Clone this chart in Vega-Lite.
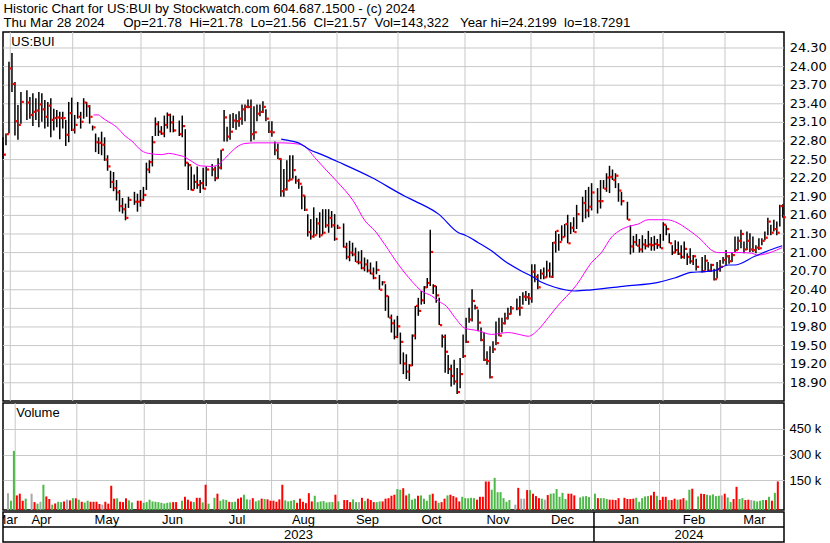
{
"$schema":"https://vega.github.io/schema/vega-lite/v6.json",
"background":"white",
"padding":{"left":1,"top":1,"right":0,"bottom":1},
"spacing":2,
"bounds":"flush",
"title":{"text":["Historic Chart for US:BUI by Stockwatch.com 604.687.1500 - (c) 2024","Thu Mar 28 2024\u00a0\u00a0\u00a0\u00a0\u00a0Op=21.78\u00a0\u00a0Hi=21.78\u00a0\u00a0Lo=21.56\u00a0\u00a0Cl=21.57\u00a0\u00a0Vol=143,322\u00a0\u00a0\u00a0Year hi=24.2199\u00a0\u00a0lo=18.7291"],"anchor":"start","font":"Liberation Sans","fontSize":13.3,"fontWeight":"normal","color":"black","lineHeight":14,"offset":1.5,"dx":2},
"config":{"view":{"stroke":"black","strokeWidth":1.5},"font":"Liberation Sans"},
"datasets":{
"bars":[
{"s":-3,"h":22.86,"l":22.51,"c":22.58,"v":75000,"d":"f"},
{"s":-2,"h":22.92,"l":22.73,"c":22.91,"v":31000,"d":"u"},
{"s":-1,"h":24.08,"l":22.92,"c":23.97,"v":321000,"d":"u"},
{"s":0,"h":24.22,"l":23.59,"c":23.72,"v":62000,"d":"d"},
{"s":1,"h":23.75,"l":22.89,"c":23.12,"v":72000,"d":"d"},
{"s":2,"h":23.38,"l":22.82,"c":23.06,"v":31000,"d":"d"},
{"s":3,"h":23.59,"l":23.08,"c":23.43,"v":43000,"d":"u"},
{"s":5,"h":23.62,"l":23.14,"c":23.42,"v":72000,"d":"f"},
{"s":6,"h":23.51,"l":23.16,"c":23.22,"v":23000,"d":"d"},
{"s":7,"h":23.57,"l":23.04,"c":23.27,"v":14000,"d":"u"},
{"s":8,"h":23.49,"l":23.14,"c":23.29,"v":25000,"d":"f"},
{"s":9,"h":23.59,"l":23.02,"c":23.39,"v":124000,"d":"u"},
{"s":10,"h":23.57,"l":23.11,"c":23.31,"v":56000,"d":"d"},
{"s":11,"h":23.46,"l":23.00,"c":23.19,"v":41000,"d":"d"},
{"s":12,"h":23.43,"l":23.03,"c":23.37,"v":8000,"d":"u"},
{"s":13,"h":23.49,"l":22.86,"c":23.14,"v":15000,"d":"d"},
{"s":14,"h":23.32,"l":22.97,"c":23.17,"v":25000,"d":"u"},
{"s":15,"h":23.30,"l":23.02,"c":23.18,"v":23000,"d":"u"},
{"s":16,"h":23.27,"l":22.83,"c":23.17,"v":27000,"d":"d"},
{"s":17,"h":23.27,"l":23.00,"c":23.17,"v":37000,"d":"f"},
{"s":18,"h":23.14,"l":22.72,"c":22.90,"v":33000,"d":"d"},
{"s":19,"h":23.43,"l":22.78,"c":23.25,"v":46000,"d":"u"},
{"s":20,"h":23.50,"l":22.96,"c":22.98,"v":45000,"d":"d"},
{"s":21,"h":23.22,"l":22.92,"c":23.06,"v":37000,"d":"u"},
{"s":22,"h":23.43,"l":23.16,"c":23.19,"v":25000,"d":"d"},
{"s":23,"h":23.27,"l":23.00,"c":23.11,"v":21000,"d":"u"},
{"s":24,"h":23.49,"l":23.16,"c":23.42,"v":31000,"d":"u"},
{"s":25,"h":23.43,"l":23.19,"c":23.36,"v":25000,"d":"d"},
{"s":26,"h":23.38,"l":23.08,"c":23.19,"v":25000,"d":"d"},
{"s":27,"h":23.05,"l":22.97,"c":23.02,"v":25000,"d":"d"},
{"s":28,"h":22.92,"l":22.62,"c":22.78,"v":12000,"d":"d"},
{"s":29,"h":22.86,"l":22.59,"c":22.77,"v":8000,"d":"f"},
{"s":30,"h":22.95,"l":22.57,"c":22.74,"v":25000,"d":"d"},
{"s":31,"h":22.86,"l":22.48,"c":22.50,"v":14000,"d":"d"},
{"s":32,"h":22.57,"l":22.32,"c":22.39,"v":118000,"d":"d"},
{"s":33,"h":22.32,"l":22.04,"c":22.14,"v":43000,"d":"d"},
{"s":34,"h":22.30,"l":21.99,"c":22.04,"v":45000,"d":"u"},
{"s":35,"h":22.17,"l":21.84,"c":21.97,"v":25000,"d":"d"},
{"s":36,"h":22.01,"l":21.66,"c":21.75,"v":23000,"d":"d"},
{"s":37,"h":21.88,"l":21.63,"c":21.70,"v":45000,"d":"d"},
{"s":38,"h":21.79,"l":21.52,"c":21.56,"v":33000,"d":"u"},
{"s":39,"h":21.90,"l":21.72,"c":21.85,"v":21000,"d":"u"},
{"s":41,"h":21.98,"l":21.77,"c":21.82,"v":31000,"d":"d"},
{"s":42,"h":21.95,"l":21.66,"c":21.82,"v":31000,"d":"d"},
{"s":43,"h":22.01,"l":21.74,"c":21.85,"v":19000,"d":"u"},
{"s":44,"h":22.06,"l":21.83,"c":21.93,"v":23000,"d":"u"},
{"s":45,"h":22.45,"l":22.01,"c":22.34,"v":37000,"d":"u"},
{"s":46,"h":22.49,"l":22.28,"c":22.46,"v":27000,"d":"u"},
{"s":47,"h":22.88,"l":22.39,"c":22.78,"v":25000,"d":"u"},
{"s":48,"h":23.18,"l":22.88,"c":23.07,"v":23000,"d":"u"},
{"s":49,"h":23.12,"l":22.88,"c":22.95,"v":19000,"d":"u"},
{"s":50,"h":23.04,"l":22.90,"c":22.92,"v":15000,"d":"u"},
{"s":51,"h":23.21,"l":22.86,"c":23.06,"v":19000,"d":"u"},
{"s":52,"h":23.26,"l":23.00,"c":23.22,"v":21000,"d":"u"},
{"s":53,"h":23.24,"l":22.94,"c":23.10,"v":23000,"d":"d"},
{"s":54,"h":23.21,"l":22.94,"c":22.97,"v":23000,"d":"d"},
{"s":56,"h":23.13,"l":22.88,"c":22.91,"v":31000,"d":"u"},
{"s":57,"h":23.21,"l":22.86,"c":23.04,"v":54000,"d":"d"},
{"s":58,"h":22.99,"l":22.39,"c":22.45,"v":37000,"d":"d"},
{"s":59,"h":22.45,"l":22.01,"c":22.41,"v":27000,"d":"d"},
{"s":60,"h":22.39,"l":22.00,"c":22.01,"v":23000,"d":"u"},
{"s":61,"h":22.26,"l":22.02,"c":22.14,"v":48000,"d":"d"},
{"s":62,"h":22.39,"l":22.03,"c":22.09,"v":48000,"d":"d"},
{"s":63,"h":22.17,"l":21.96,"c":22.12,"v":21000,"d":"u"},
{"s":64,"h":22.37,"l":22.02,"c":22.03,"v":124000,"d":"d"},
{"s":65,"h":22.39,"l":22.07,"c":22.34,"v":14000,"d":"u"},
{"s":67,"h":22.43,"l":22.23,"c":22.34,"v":48000,"d":"u"},
{"s":68,"h":22.39,"l":22.15,"c":22.20,"v":72000,"d":"d"},
{"s":69,"h":22.52,"l":22.19,"c":22.37,"v":31000,"d":"u"},
{"s":70,"h":22.66,"l":22.34,"c":22.66,"v":39000,"d":"u"},
{"s":71,"h":23.30,"l":22.79,"c":23.18,"v":35000,"d":"u"},
{"s":72,"h":23.03,"l":22.79,"c":22.87,"v":25000,"d":"d"},
{"s":73,"h":23.23,"l":22.82,"c":22.95,"v":23000,"d":"u"},
{"s":74,"h":23.25,"l":23.01,"c":23.13,"v":25000,"d":"u"},
{"s":75,"h":23.23,"l":22.98,"c":23.12,"v":43000,"d":"d"},
{"s":76,"h":23.28,"l":23.03,"c":23.16,"v":50000,"d":"d"},
{"s":77,"h":23.39,"l":23.06,"c":23.31,"v":66000,"d":"u"},
{"s":78,"h":23.39,"l":23.12,"c":23.35,"v":39000,"d":"u"},
{"s":79,"h":23.47,"l":23.33,"c":23.35,"v":37000,"d":"f"},
{"s":80,"h":23.47,"l":22.79,"c":22.91,"v":46000,"d":"d"},
{"s":81,"h":23.36,"l":22.82,"c":22.94,"v":27000,"d":"u"},
{"s":82,"h":23.39,"l":23.12,"c":23.24,"v":33000,"d":"u"},
{"s":83,"h":23.39,"l":23.20,"c":23.27,"v":43000,"d":"d"},
{"s":84,"h":23.44,"l":23.25,"c":23.35,"v":41000,"d":"u"},
{"s":85,"h":23.31,"l":23.12,"c":23.16,"v":39000,"d":"d"},
{"s":86,"h":23.12,"l":22.93,"c":22.95,"v":31000,"d":"d"},
{"s":87,"h":23.12,"l":22.87,"c":22.94,"v":31000,"d":"d"},
{"s":88,"h":22.79,"l":22.57,"c":22.65,"v":25000,"d":"d"},
{"s":89,"h":22.76,"l":22.51,"c":22.51,"v":39000,"d":"d"},
{"s":90,"h":22.52,"l":21.90,"c":21.99,"v":124000,"d":"d"},
{"s":91,"h":22.35,"l":21.90,"c":22.02,"v":33000,"d":"u"},
{"s":92,"h":22.49,"l":22.00,"c":22.16,"v":27000,"d":"u"},
{"s":93,"h":22.57,"l":22.16,"c":22.18,"v":31000,"d":"u"},
{"s":94,"h":22.57,"l":22.19,"c":22.33,"v":35000,"d":"u"},
{"s":95,"h":22.24,"l":22.11,"c":22.16,"v":19000,"d":"d"},
{"s":96,"h":22.19,"l":22.03,"c":22.11,"v":43000,"d":"d"},
{"s":97,"h":22.08,"l":21.70,"c":21.92,"v":25000,"d":"d"},
{"s":98,"h":21.92,"l":21.67,"c":21.69,"v":17000,"d":"d"},
{"s":99,"h":21.62,"l":21.26,"c":21.33,"v":75000,"d":"d"},
{"s":100,"h":21.54,"l":21.21,"c":21.26,"v":27000,"d":"d"},
{"s":101,"h":21.73,"l":21.24,"c":21.28,"v":60000,"d":"u"},
{"s":102,"h":21.56,"l":21.29,"c":21.47,"v":23000,"d":"u"},
{"s":103,"h":21.65,"l":21.24,"c":21.28,"v":27000,"d":"u"},
{"s":104,"h":21.70,"l":21.29,"c":21.32,"v":29000,"d":"u"},
{"s":105,"h":21.70,"l":21.40,"c":21.44,"v":21000,"d":"u"},
{"s":106,"h":21.70,"l":21.32,"c":21.56,"v":23000,"d":"u"},
{"s":107,"h":21.67,"l":21.40,"c":21.44,"v":23000,"d":"u"},
{"s":108,"h":21.62,"l":21.19,"c":21.22,"v":66000,"d":"d"},
{"s":109,"h":21.45,"l":21.38,"c":21.40,"v":27000,"d":"u"},
{"s":111,"h":21.47,"l":21.08,"c":21.09,"v":35000,"d":"d"},
{"s":112,"h":21.16,"l":20.89,"c":20.93,"v":35000,"d":"d"},
{"s":113,"h":21.19,"l":20.86,"c":21.00,"v":23000,"d":"d"},
{"s":114,"h":21.16,"l":20.94,"c":20.97,"v":39000,"d":"u"},
{"s":115,"h":21.08,"l":20.85,"c":20.85,"v":23000,"d":"u"},
{"s":116,"h":21.02,"l":20.81,"c":20.84,"v":23000,"d":"f"},
{"s":117,"h":21.04,"l":20.73,"c":20.75,"v":48000,"d":"d"},
{"s":118,"h":20.92,"l":20.70,"c":20.81,"v":29000,"d":"u"},
{"s":119,"h":20.89,"l":20.68,"c":20.71,"v":43000,"d":"d"},
{"s":120,"h":20.84,"l":20.65,"c":20.66,"v":35000,"d":"d"},
{"s":121,"h":20.76,"l":20.57,"c":20.59,"v":23000,"d":"d"},
{"s":122,"h":20.86,"l":20.65,"c":20.72,"v":23000,"d":"u"},
{"s":123,"h":20.64,"l":20.40,"c":20.40,"v":27000,"d":"u"},
{"s":124,"h":20.54,"l":20.47,"c":20.52,"v":27000,"d":"d"},
{"s":125,"h":20.49,"l":20.06,"c":20.30,"v":43000,"d":"d"},
{"s":126,"h":20.30,"l":19.95,"c":19.95,"v":46000,"d":"d"},
{"s":127,"h":20.00,"l":19.71,"c":19.86,"v":60000,"d":"d"},
{"s":128,"h":19.92,"l":19.60,"c":19.64,"v":66000,"d":"d"},
{"s":129,"h":19.98,"l":19.62,"c":19.81,"v":99000,"d":"u"},
{"s":130,"h":19.71,"l":19.20,"c":19.56,"v":95000,"d":"u"},
{"s":131,"h":19.39,"l":19.04,"c":19.21,"v":104000,"d":"d"},
{"s":132,"h":19.36,"l":18.96,"c":19.08,"v":62000,"d":"d"},
{"s":133,"h":19.20,"l":18.93,"c":19.18,"v":72000,"d":"u"},
{"s":134,"h":19.68,"l":19.17,"c":19.66,"v":37000,"d":"u"},
{"s":135,"h":20.14,"l":19.60,"c":20.14,"v":43000,"d":"u"},
{"s":136,"h":20.27,"l":19.98,"c":20.06,"v":60000,"d":"d"},
{"s":137,"h":20.38,"l":20.16,"c":20.23,"v":62000,"d":"u"},
{"s":138,"h":20.46,"l":20.17,"c":20.44,"v":43000,"d":"u"},
{"s":139,"h":20.59,"l":20.43,"c":20.51,"v":31000,"d":"u"},
{"s":140,"h":21.37,"l":20.46,"c":21.01,"v":66000,"d":"u"},
{"s":141,"h":20.49,"l":20.33,"c":20.46,"v":72000,"d":"d"},
{"s":142,"h":20.46,"l":20.19,"c":20.31,"v":31000,"d":"d"},
{"s":143,"h":20.27,"l":19.83,"c":19.83,"v":19000,"d":"u"},
{"s":144,"h":19.68,"l":19.47,"c":19.64,"v":23000,"d":"d"},
{"s":145,"h":19.68,"l":19.06,"c":19.40,"v":43000,"d":"d"},
{"s":146,"h":19.35,"l":19.04,"c":19.12,"v":62000,"d":"u"},
{"s":147,"h":19.19,"l":18.84,"c":19.01,"v":66000,"d":"d"},
{"s":148,"h":19.27,"l":18.87,"c":18.92,"v":58000,"d":"d"},
{"s":149,"h":19.14,"l":18.72,"c":18.75,"v":50000,"d":"d"},
{"s":150,"h":19.30,"l":18.81,"c":19.04,"v":27000,"d":"d"},
{"s":151,"h":19.68,"l":19.30,"c":19.33,"v":54000,"d":"u"},
{"s":152,"h":19.95,"l":19.54,"c":19.56,"v":46000,"d":"u"},
{"s":153,"h":20.11,"l":19.87,"c":19.92,"v":45000,"d":"u"},
{"s":154,"h":20.41,"l":19.89,"c":20.22,"v":48000,"d":"u"},
{"s":155,"h":20.16,"l":20.08,"c":20.11,"v":46000,"d":"u"},
{"s":156,"h":20.08,"l":19.73,"c":19.87,"v":37000,"d":"d"},
{"s":157,"h":19.79,"l":19.57,"c":19.59,"v":54000,"d":"d"},
{"s":158,"h":19.71,"l":19.25,"c":19.27,"v":54000,"d":"d"},
{"s":159,"h":19.41,"l":19.19,"c":19.25,"v":143000,"d":"d"},
{"s":160,"h":19.49,"l":18.97,"c":18.99,"v":143000,"d":"d"},
{"s":161,"h":19.57,"l":19.38,"c":19.44,"v":95000,"d":"u"},
{"s":162,"h":19.89,"l":19.51,"c":19.54,"v":164000,"d":"u"},
{"s":163,"h":19.95,"l":19.65,"c":19.66,"v":81000,"d":"u"},
{"s":164,"h":19.95,"l":19.71,"c":19.86,"v":81000,"d":"u"},
{"s":165,"h":20.03,"l":19.84,"c":19.94,"v":46000,"d":"u"},
{"s":166,"h":20.11,"l":19.92,"c":20.01,"v":25000,"d":"u"},
{"s":167,"h":20.14,"l":20.00,"c":20.10,"v":35000,"d":"u"},
{"s":169,"h":20.26,"l":20.07,"c":20.10,"v":8000,"d":"f"},
{"s":170,"h":20.30,"l":19.98,"c":20.11,"v":106000,"d":"d"},
{"s":171,"h":20.36,"l":20.16,"c":20.29,"v":43000,"d":"f"},
{"s":172,"h":20.38,"l":20.22,"c":20.28,"v":43000,"d":"f"},
{"s":173,"h":20.35,"l":20.16,"c":20.26,"v":93000,"d":"d"},
{"s":174,"h":20.81,"l":20.19,"c":20.69,"v":93000,"d":"u"},
{"s":175,"h":20.81,"l":20.52,"c":20.61,"v":72000,"d":"d"},
{"s":176,"h":20.65,"l":20.41,"c":20.44,"v":58000,"d":"d"},
{"s":177,"h":20.73,"l":20.57,"c":20.66,"v":46000,"d":"d"},
{"s":178,"h":20.76,"l":20.57,"c":20.60,"v":43000,"d":"u"},
{"s":179,"h":20.87,"l":20.60,"c":20.71,"v":37000,"d":"f"},
{"s":180,"h":20.84,"l":20.60,"c":20.61,"v":64000,"d":"d"},
{"s":181,"h":21.17,"l":20.59,"c":21.16,"v":72000,"d":"u"},
{"s":182,"h":21.35,"l":21.00,"c":21.35,"v":74000,"d":"u"},
{"s":183,"h":21.30,"l":21.03,"c":21.17,"v":99000,"d":"u"},
{"s":184,"h":21.44,"l":21.19,"c":21.25,"v":54000,"d":"u"},
{"s":185,"h":21.46,"l":21.25,"c":21.46,"v":77000,"d":"u"},
{"s":186,"h":21.61,"l":21.15,"c":21.15,"v":41000,"d":"u"},
{"s":187,"h":21.49,"l":21.30,"c":21.40,"v":72000,"d":"d"},
{"s":188,"h":21.57,"l":21.33,"c":21.33,"v":72000,"d":"d"},
{"s":189,"h":21.77,"l":21.38,"c":21.62,"v":62000,"d":"d"},
{"s":191,"h":21.90,"l":21.49,"c":21.80,"v":50000,"d":"u"},
{"s":192,"h":22.01,"l":21.55,"c":21.68,"v":56000,"d":"u"},
{"s":193,"h":22.06,"l":21.57,"c":21.74,"v":58000,"d":"u"},
{"s":194,"h":22.12,"l":21.68,"c":21.97,"v":52000,"d":"u"},
{"s":196,"h":22.04,"l":21.63,"c":21.83,"v":72000,"d":"u"},
{"s":197,"h":22.17,"l":21.71,"c":21.83,"v":46000,"d":"d"},
{"s":198,"h":22.17,"l":22.03,"c":22.03,"v":46000,"d":"u"},
{"s":199,"h":22.28,"l":21.98,"c":22.21,"v":46000,"d":"u"},
{"s":200,"h":22.40,"l":21.96,"c":22.22,"v":41000,"d":"u"},
{"s":201,"h":22.34,"l":22.17,"c":22.17,"v":37000,"d":"d"},
{"s":202,"h":22.28,"l":22.04,"c":22.24,"v":37000,"d":"d"},
{"s":203,"h":22.12,"l":21.82,"c":22.00,"v":35000,"d":"d"},
{"s":204,"h":21.98,"l":21.76,"c":21.83,"v":46000,"d":"d"},
{"s":206,"h":21.82,"l":21.53,"c":21.53,"v":48000,"d":"d"},
{"s":207,"h":21.44,"l":20.97,"c":21.10,"v":41000,"d":"d"},
{"s":208,"h":21.27,"l":21.00,"c":21.17,"v":41000,"d":"d"},
{"s":209,"h":21.30,"l":21.11,"c":21.11,"v":43000,"d":"d"},
{"s":210,"h":21.22,"l":21.00,"c":21.05,"v":48000,"d":"u"},
{"s":211,"h":21.28,"l":21.00,"c":21.13,"v":25000,"d":"u"},
{"s":212,"h":21.22,"l":21.05,"c":21.11,"v":46000,"d":"u"},
{"s":213,"h":21.35,"l":21.08,"c":21.13,"v":56000,"d":"u"},
{"s":214,"h":21.25,"l":21.03,"c":21.12,"v":58000,"d":"u"},
{"s":215,"h":21.27,"l":21.03,"c":21.14,"v":62000,"d":"d"},
{"s":216,"h":21.22,"l":21.06,"c":21.12,"v":83000,"d":"d"},
{"s":217,"h":21.30,"l":21.07,"c":21.07,"v":60000,"d":"u"},
{"s":218,"h":21.49,"l":21.19,"c":21.45,"v":35000,"d":"d"},
{"s":219,"h":21.44,"l":21.28,"c":21.38,"v":54000,"d":"d"},
{"s":220,"h":21.31,"l":21.15,"c":21.15,"v":54000,"d":"d"},
{"s":221,"h":21.12,"l":20.96,"c":21.00,"v":35000,"d":"u"},
{"s":222,"h":21.20,"l":20.99,"c":21.04,"v":35000,"d":"d"},
{"s":223,"h":21.18,"l":20.96,"c":20.98,"v":43000,"d":"d"},
{"s":224,"h":21.12,"l":20.90,"c":20.93,"v":37000,"d":"u"},
{"s":225,"h":21.18,"l":20.90,"c":21.06,"v":39000,"d":"d"},
{"s":226,"h":20.99,"l":20.80,"c":20.93,"v":46000,"d":"d"},
{"s":227,"h":21.07,"l":20.82,"c":20.86,"v":33000,"d":"u"},
{"s":228,"h":20.96,"l":20.80,"c":20.94,"v":95000,"d":"u"},
{"s":229,"h":20.90,"l":20.71,"c":20.77,"v":101000,"d":"d"},
{"s":231,"h":20.93,"l":20.68,"c":20.70,"v":56000,"d":"u"},
{"s":232,"h":20.96,"l":20.71,"c":20.87,"v":72000,"d":"d"},
{"s":233,"h":20.85,"l":20.69,"c":20.71,"v":70000,"d":"d"},
{"s":234,"h":20.82,"l":20.69,"c":20.80,"v":66000,"d":"u"},
{"s":235,"h":20.74,"l":20.55,"c":20.57,"v":62000,"d":"u"},
{"s":236,"h":20.85,"l":20.58,"c":20.73,"v":68000,"d":"u"},
{"s":237,"h":20.88,"l":20.69,"c":20.77,"v":58000,"d":"u"},
{"s":238,"h":20.93,"l":20.82,"c":20.88,"v":60000,"d":"u"},
{"s":239,"h":21.04,"l":20.80,"c":20.94,"v":62000,"d":"f"},
{"s":240,"h":20.96,"l":20.82,"c":20.86,"v":72000,"d":"d"},
{"s":241,"h":21.01,"l":20.85,"c":20.96,"v":50000,"d":"u"},
{"s":242,"h":21.26,"l":21.01,"c":21.04,"v":23000,"d":"u"},
{"s":243,"h":21.26,"l":21.04,"c":21.19,"v":41000,"d":"d"},
{"s":244,"h":21.37,"l":21.07,"c":21.30,"v":112000,"d":"d"},
{"s":245,"h":21.18,"l":20.99,"c":21.05,"v":41000,"d":"u"},
{"s":246,"h":21.34,"l":21.04,"c":21.19,"v":46000,"d":"u"},
{"s":247,"h":21.31,"l":21.01,"c":21.05,"v":35000,"d":"d"},
{"s":248,"h":21.26,"l":21.01,"c":21.04,"v":37000,"d":"d"},
{"s":249,"h":21.12,"l":20.99,"c":21.08,"v":35000,"d":"f"},
{"s":250,"h":21.23,"l":21.04,"c":21.07,"v":31000,"d":"u"},
{"s":251,"h":21.23,"l":21.12,"c":21.19,"v":27000,"d":"u"},
{"s":252,"h":21.34,"l":21.20,"c":21.24,"v":31000,"d":"u"},
{"s":253,"h":21.56,"l":21.28,"c":21.50,"v":35000,"d":"u"},
{"s":254,"h":21.45,"l":21.28,"c":21.32,"v":35000,"d":"d"},
{"s":255,"h":21.53,"l":21.34,"c":21.38,"v":54000,"d":"u"},
{"s":256,"h":21.50,"l":21.28,"c":21.32,"v":31000,"d":"d"},
{"s":257,"h":21.77,"l":21.42,"c":21.75,"v":77000,"d":"u"},
{"s":258,"h":21.78,"l":21.56,"c":21.57,"v":143322,"d":"d"}
],
"ma1":[
{"s":27.3,"m":23.22},{"s":29.0,"m":23.22},{"s":30.1,"m":23.18},{"s":32.3,"m":23.11},{"s":33.4,"m":23.08},{"s":35.1,"m":23.02},{"s":37.9,"m":22.88},{"s":40.1,"m":22.80},{"s":43.5,"m":22.64},{"s":45.7,"m":22.60},{"s":50.2,"m":22.58},{"s":52.4,"m":22.60},{"s":55.8,"m":22.57},{"s":57.4,"m":22.55},{"s":60.2,"m":22.47},{"s":63.0,"m":22.40},{"s":66.9,"m":22.39},{"s":69.1,"m":22.42},{"s":70.3,"m":22.47},{"s":72.5,"m":22.58},{"s":75.8,"m":22.72},{"s":78.0,"m":22.76},{"s":81.4,"m":22.77},{"s":85.9,"m":22.77},{"s":90.3,"m":22.77},{"s":95.9,"m":22.75},{"s":98.1,"m":22.71},{"s":101.4,"m":22.53},{"s":104.8,"m":22.35},{"s":108.7,"m":22.15},{"s":114.3,"m":21.83},{"s":118.2,"m":21.51},{"s":121.5,"m":21.35},{"s":124.8,"m":21.13},{"s":129.3,"m":20.81},{"s":133.8,"m":20.54},{"s":137.1,"m":20.38},{"s":140.5,"m":20.30},{"s":142.7,"m":20.22},{"s":145.5,"m":20.13},{"s":148.3,"m":19.95},{"s":151.6,"m":19.78},{"s":156.1,"m":19.74},{"s":160.5,"m":19.68},{"s":166.1,"m":19.71},{"s":170.6,"m":19.67},{"s":172.8,"m":19.65},{"s":176.2,"m":19.76},{"s":179.5,"m":19.95},{"s":182.3,"m":20.12},{"s":189.0,"m":20.48},{"s":194.0,"m":20.84},{"s":197.3,"m":21.00},{"s":200.7,"m":21.25},{"s":202.9,"m":21.34},{"s":206.3,"m":21.42},{"s":209.6,"m":21.46},{"s":212.9,"m":21.53},{"s":216.3,"m":21.53},{"s":219.1,"m":21.53},{"s":221.8,"m":21.50},{"s":226.3,"m":21.37},{"s":230.8,"m":21.20},{"s":234.1,"m":21.04},{"s":236.4,"m":21.00},{"s":239.7,"m":21.00},{"s":244.1,"m":21.00},{"s":247.5,"m":20.99},{"s":249.7,"m":20.96},{"s":253.1,"m":20.99},{"s":255.9,"m":21.04},{"s":257.8,"m":21.08}
],
"ma2":[
{"s":90.1,"m":22.83},{"s":92.5,"m":22.81},{"s":95.9,"m":22.77},{"s":99.7,"m":22.66},{"s":103.7,"m":22.58},{"s":109.3,"m":22.46},{"s":120.4,"m":22.21},{"s":131.5,"m":21.91},{"s":134.9,"m":21.83},{"s":142.8,"m":21.62},{"s":149.5,"m":21.32},{"s":151.7,"m":21.28},{"s":156.1,"m":21.16},{"s":160.5,"m":21.03},{"s":165.0,"m":20.86},{"s":170.6,"m":20.70},{"s":173.9,"m":20.62},{"s":177.3,"m":20.52},{"s":181.7,"m":20.44},{"s":188.4,"m":20.38},{"s":194.0,"m":20.40},{"s":205.1,"m":20.46},{"s":216.3,"m":20.52},{"s":221.8,"m":20.59},{"s":227.4,"m":20.68},{"s":230.8,"m":20.69},{"s":235.2,"m":20.71},{"s":239.7,"m":20.80},{"s":241.9,"m":20.80},{"s":248.6,"m":20.94},{"s":255.3,"m":21.07},{"s":257.8,"m":21.11}
],
"ygrid":[
{"p":18.9,"t":"18.90"},{"p":19.2,"t":"19.20"},{"p":19.5,"t":"19.50"},{"p":19.8,"t":"19.80"},{"p":20.1,"t":"20.10"},{"p":20.4,"t":"20.40"},{"p":20.7,"t":"20.70"},{"p":21.0,"t":"21.00"},{"p":21.3,"t":"21.30"},{"p":21.6,"t":"21.60"},{"p":21.9,"t":"21.90"},{"p":22.2,"t":"22.20"},{"p":22.5,"t":"22.50"},{"p":22.8,"t":"22.80"},{"p":23.1,"t":"23.10"},{"p":23.4,"t":"23.40"},{"p":23.7,"t":"23.70"},{"p":24.0,"t":"24.00"},{"p":24.3,"t":"24.30"}
],
"months":[
{"n":"Mar","mid":-1.78},
{"n":"Apr","b":-0.56,"mid":9.89},
{"n":"May","b":20.33,"mid":31.76},
{"n":"Jun","b":43.19,"mid":53.73},
{"n":"Jul","b":64.27,"mid":75.32},
{"n":"Aug","b":86.36,"mid":97.58},
{"n":"Sep","b":108.79,"mid":119.0},
{"n":"Oct","b":129.2,"mid":140.42},
{"n":"Nov","b":151.63,"mid":162.68},
{"n":"Dec","b":173.72,"mid":184.26},
{"n":"Jan","b":194.8,"mid":206.35},
{"n":"Feb","b":217.9,"mid":228.28},
{"n":"Mar","b":238.65,"mid":248.5}
],
"years":[{"n":"2023","mid":95.9},{"n":"2024","mid":226.6}]
},
"vconcat":[
{
"width":781,"height":369,
"layer":[
{"data":{"name":"ygrid"},"mark":{"type":"rule","color":"#c8c8c8","strokeWidth":1},
 "encoding":{"y":{"field":"p","type":"quantitative","title":null,"scale":{"domain":[18.606,24.558],"nice":false,"zero":false},"axis":null}}},
{"data":{"name":"months"},"mark":{"type":"rule","color":"#c8c8c8","strokeWidth":1},
 "encoding":{"x":{"field":"b","type":"quantitative","scale":{"domain":[-3,258.4],"nice":false,"zero":false},"axis":null}}},
{"data":{"name":"bars"},"mark":{"type":"rule","color":"black","strokeWidth":1.5},
 "encoding":{"x":{"field":"s","type":"quantitative","axis":null},
  "y":{"field":"l","type":"quantitative","title":null,"axis":null},
  "y2":{"field":"h"}}},
{"data":{"name":"bars"},"mark":{"type":"square","size":5,"color":"#ff0000","opacity":1,"filled":true,"strokeWidth":0,"xOffset":1.8},
 "encoding":{"x":{"field":"s","type":"quantitative","axis":null},"y":{"field":"c","type":"quantitative","title":null,"axis":null}}},
{"data":{"name":"ma1"},"mark":{"type":"line","color":"#ff00ff","strokeWidth":1,"interpolate":"monotone"},
 "encoding":{"x":{"field":"s","type":"quantitative","axis":null},"y":{"field":"m","type":"quantitative","title":null,"axis":null}}},
{"data":{"name":"ma2"},"mark":{"type":"line","color":"#0000ff","strokeWidth":1.2,"interpolate":"monotone"},
 "encoding":{"x":{"field":"s","type":"quantitative","axis":null},"y":{"field":"m","type":"quantitative","title":null,"axis":null}}},
{"data":{"name":"ygrid"},"mark":{"type":"text","align":"left","baseline":"middle","fontSize":13,"font":"DejaVu Sans","color":"black"},
 "encoding":{"x":{"datum":260.3,"type":"quantitative","axis":null},"y":{"field":"p","type":"quantitative","title":null,"axis":null},"text":{"field":"t"}}},
{"data":{"values":[{"t":"US:BUI"}]},"mark":{"type":"text","align":"left","baseline":"middle","fontSize":13,"font":"Liberation Sans","color":"black"},
 "encoding":{"x":{"datum":-0.2,"type":"quantitative","axis":null},"y":{"datum":24.39,"type":"quantitative","axis":null},"text":{"field":"t"}}}
]
},
{
"width":781,"height":107,
"layer":[
{"data":{"name":"months"},"mark":{"type":"rule","color":"#c8c8c8","strokeWidth":1},
 "encoding":{"x":{"field":"b","type":"quantitative","scale":{"domain":[-3,258.4],"nice":false,"zero":false},"axis":null}}},
{"data":{"name":"bars"},"mark":{"type":"bar","width":2},
 "encoding":{"x":{"field":"s","type":"quantitative","axis":null},
  "y":{"field":"v","type":"quantitative","title":null,"scale":{"domain":[-23000,600000],"nice":false,"zero":false},
   "axis":{"orient":"right","values":[150000,300000,450000],"labelExpr":"format(datum.value/1000,'d') + ' k'","grid":true,"gridColor":"#c8c8c8","gridWidth":1,"gridOpacity":1,"ticks":false,"domain":false,"labelPadding":5,"labelFont":"Liberation Sans","labelFontSize":13,"labelColor":"black"}},
  "y2":{"datum":-23000},
  "color":{"field":"d","type":"nominal","scale":{"domain":["u","d","f"],"range":["#4cb848","#ff0000","#a8a8a8"]},"legend":null}}},
{"data":{"values":[{"t":"Volume"}]},"mark":{"type":"text","align":"left","baseline":"middle","fontSize":13,"font":"Liberation Sans","color":"black"},
 "encoding":{"x":{"datum":-0.2,"type":"quantitative","axis":null},"y":{"datum":540000,"type":"quantitative"},"text":{"field":"t"}}}
]
},
{
"width":781,"height":30,
"layer":[
{"data":{"values":[{}]},"mark":{"type":"rule","color":"black","strokeWidth":1.5},
 "encoding":{"y":{"datum":1,"type":"quantitative","scale":{"domain":[0,2],"nice":false},"axis":null}}},
{"data":{"name":"months"},"transform":[{"filter":"datum.n == 'Jan'"}],"mark":{"type":"rule","color":"black","strokeWidth":1.5},
 "encoding":{"x":{"field":"b","type":"quantitative","scale":{"domain":[-3,258.4],"nice":false,"zero":false},"axis":null}}},
{"data":{"name":"months"},"mark":{"type":"text","baseline":"middle","fontSize":13,"font":"Liberation Sans","color":"black","clip":true},
 "encoding":{"x":{"field":"mid","type":"quantitative","axis":null},"y":{"datum":1.5,"type":"quantitative","axis":null},"text":{"field":"n"}}},
{"data":{"name":"years"},"mark":{"type":"text","baseline":"middle","fontSize":13,"font":"Liberation Sans","color":"black"},
 "encoding":{"x":{"field":"mid","type":"quantitative","axis":null},"y":{"datum":0.5,"type":"quantitative","axis":null},"text":{"field":"n"}}}
]
}
]
}
